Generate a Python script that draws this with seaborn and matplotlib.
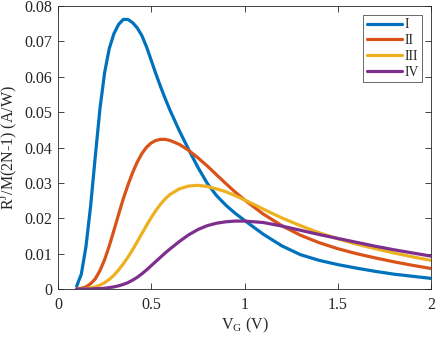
import matplotlib
matplotlib.use("Agg")
import matplotlib.pyplot as plt
import seaborn as sns
import pandas as pd
from matplotlib.ticker import FuncFormatter, FixedLocator

# ---- data ----
vg = [0.1, 0.125, 0.15, 0.175, 0.2, 0.225, 0.25, 0.275, 0.3, 0.325, 0.35, 0.375,
      0.4, 0.425, 0.45, 0.475, 0.5, 0.525, 0.55, 0.575, 0.6,
      0.65, 0.7, 0.75, 0.8, 0.85, 0.9, 0.95, 1.0,
      1.1, 1.2, 1.3, 1.4, 1.5, 1.6, 1.7, 1.8, 1.9, 2.0]

r_I = [0.0008, 0.0042, 0.0120, 0.0235, 0.0375, 0.0510, 0.0612, 0.0680, 0.0722,
       0.0748, 0.0762, 0.0762, 0.0753, 0.0738, 0.0716, 0.0684, 0.0646, 0.0608,
       0.0572, 0.0538, 0.0506,
       0.0448, 0.0395, 0.0344, 0.0299, 0.0264, 0.0237, 0.0214, 0.0194,
       0.0155, 0.0122, 0.0097, 0.0081, 0.0069, 0.0059, 0.0050, 0.0042, 0.0036,
       0.0030]

r_II = [0.0000, 0.0002, 0.0006, 0.0015, 0.0029, 0.0052, 0.0083, 0.0122, 0.0166,
        0.0211, 0.0255, 0.0294, 0.0329, 0.0359, 0.0383, 0.0401, 0.0413, 0.0420,
        0.0423, 0.0423, 0.0420,
        0.0409, 0.0392, 0.0371, 0.0348, 0.0323, 0.0298, 0.0274, 0.0252,
        0.0212, 0.0179, 0.0152, 0.0131, 0.0114, 0.0100, 0.0088, 0.0077, 0.0067,
        0.0058]

r_III = [0.0000, 0.0000, 0.0001, 0.0003, 0.0006, 0.0011, 0.0018, 0.0027, 0.0039,
         0.0054, 0.0071, 0.0090, 0.0111, 0.0134, 0.0157, 0.0180, 0.0202, 0.0222,
         0.0240, 0.0255, 0.0267,
         0.0283, 0.0291, 0.0293, 0.0290, 0.0283, 0.0275, 0.0264, 0.0252,
         0.0226, 0.0201, 0.0179, 0.0159, 0.0142, 0.0127, 0.0114, 0.0102, 0.0091,
         0.0081]

r_IV = [0.0000, 0.0000, 0.0000, 0.0000, 0.0001, 0.0001, 0.0002, 0.0004, 0.0006,
        0.0009, 0.0013, 0.0018, 0.0025, 0.0033, 0.0043, 0.0054, 0.0066, 0.0078,
        0.0090, 0.0102, 0.0113,
        0.0134, 0.0153, 0.0168, 0.0179, 0.0186, 0.0190, 0.0192, 0.0192,
        0.0188, 0.0178, 0.0166, 0.0154, 0.0143, 0.0132, 0.0121, 0.0111, 0.0102,
        0.0093]

labels = ["I", "II", "III", "IV"]
colors = ["#0072BD", "#D95319", "#EDB120", "#7E2F8E"]
x_ticks = [0, 0.5, 1, 1.5, 2]
y_ticks = [0, 0.01, 0.02, 0.03, 0.04, 0.05, 0.06, 0.07, 0.08]

# ---- build long-form table ----
frames = []
for lab, ys in zip(labels, [r_I, r_II, r_III, r_IV]):
    frames.append(pd.DataFrame({"VG": vg, "R": ys, "curve": lab}))
df = pd.concat(frames, ignore_index=True)

sns.set_style("white")
plt.rcParams["font.family"] = ["Liberation Serif", "DejaVu Serif"]
plt.rcParams["mathtext.fontset"] = "custom"
plt.rcParams["mathtext.rm"] = "Liberation Serif"
plt.rcParams["mathtext.it"] = "Liberation Serif:italic"

fig = plt.figure(figsize=(4.36, 3.39), dpi=100)
ax = fig.add_axes([58 / 436, 1 - 289 / 339, (431 - 58) / 436, (289 - 6) / 339])

sns.lineplot(data=df, x="VG", y="R", hue="curve", hue_order=labels,
             palette=colors, linewidth=2.3, ax=ax, legend=True)

ax.set_xlim(0, 2)
ax.set_ylim(0, 0.08)
ax.xaxis.set_major_locator(FixedLocator(x_ticks))
ax.yaxis.set_major_locator(FixedLocator(y_ticks))
fmt = FuncFormatter(lambda v, p: "%g" % round(v, 4))
ax.xaxis.set_major_formatter(fmt)
ax.yaxis.set_major_formatter(fmt)

edge = "#262626"
for s in ax.spines.values():
    s.set_visible(True)
    s.set_color(edge)
    s.set_linewidth(0.6)
ax.tick_params(direction="in", length=4, width=0.6, color=edge,
               labelsize=11.5, labelcolor="#262626", top=True, right=True,
               left=True, bottom=True)
ax.tick_params(axis="x", pad=6)
ax.tick_params(axis="y", pad=4)

ax.set_xlabel(r"V$_\mathregular{G}$ (V)", fontsize=11.5, color="#262626", labelpad=2)
ax.set_ylabel(r"R$^\mathregular{J}$/M(2N-1) (A/W)", fontsize=11.5, color="#262626", labelpad=4)

handles, labs = ax.get_legend_handles_labels()
leg = ax.legend(handles, labs, loc="upper right",
                bbox_to_anchor=((422 - 58) / 373, (289 - 15) / 283),
                frameon=True, fancybox=False, fontsize=9.8,
                handlelength=2.6, handletextpad=0.15, labelspacing=0.2,
                borderpad=0.25, borderaxespad=0.0)
leg.get_frame().set_edgecolor(edge)
leg.get_frame().set_linewidth(0.6)
for ln in leg.get_lines():
    ln.set_linewidth(2.3)

fig.savefig("out.png", dpi=100)
